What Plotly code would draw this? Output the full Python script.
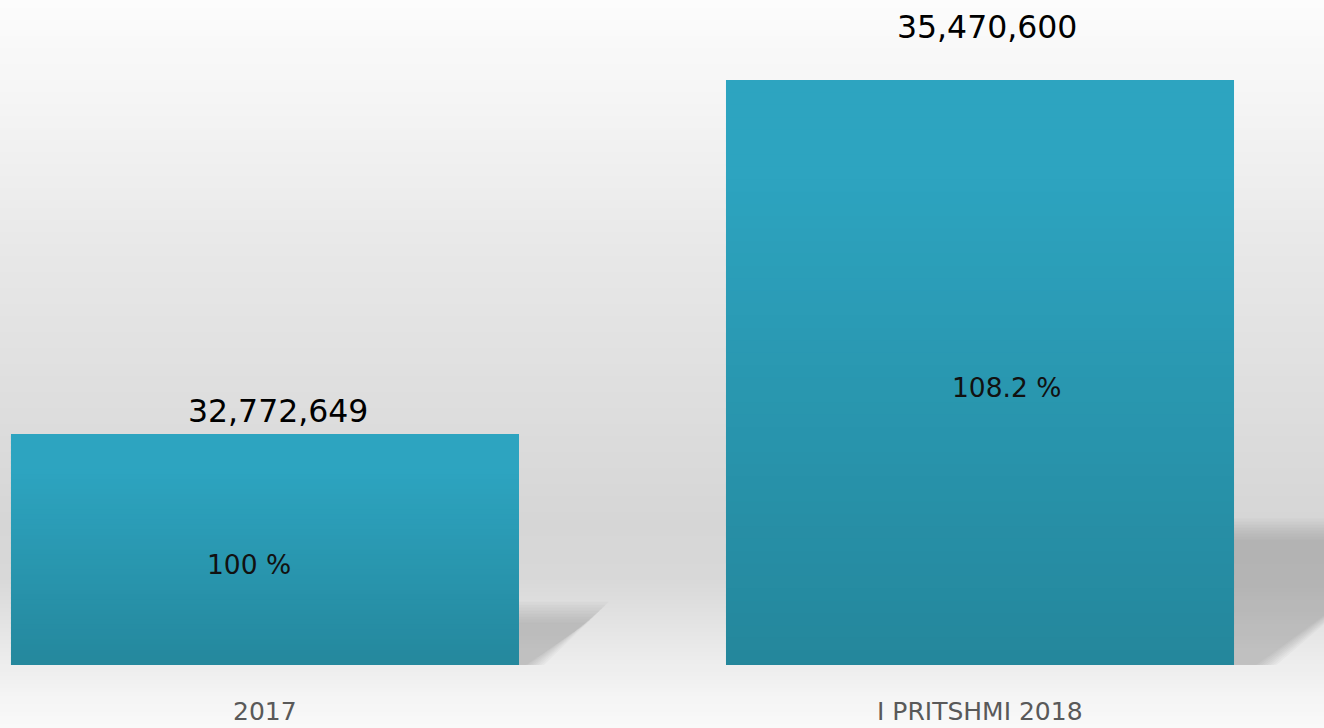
import plotly.graph_objects as go
import numpy as np

# ---- data ----
categories = ["2017", "I PRITSHMI 2018"]
values = [32772649, 35470600]
value_labels = ["32,772,649", "35,470,600"]
percent_labels = ["100 %", "108.2 %"]

# ---- layout constants ----
W, H = 1324, 728
MB = 63                      # bottom margin
PLOT_H = H - MB
y_range = [31012000, 36080300]
x_range = [-0.3706, 1.4811]
bar_width = 0.7105
FONT = "DejaVu Sans"

upp = (y_range[1] - y_range[0]) / PLOT_H          # value units per pixel
xppu = W / (x_range[1] - x_range[0])              # pixels per x unit

fig = go.Figure()

# ---- bars with vertical gradient (stacked segments) ----
top_col = np.array([45, 164, 192])
bot_col = np.array([36, 134, 155])
N = 48
floor = y_range[0] - 10 * upp
for k in range(N):
    t = (k + 0.5) / N                 # 0 bottom -> 1 top
    tt = min(1.0, t / 0.85)
    c = bot_col + (top_col - bot_col) * tt
    col = "rgb(%d,%d,%d)" % tuple(c.round())
    bases, heights = [], []
    for v in values:
        seg = (v - floor) / N
        b = floor + seg * k
        bases.append(b)
        heights.append(seg * (1.0 if k == N - 1 else 1.6))
    fig.add_trace(go.Bar(
        x=list(range(len(categories))), y=heights, base=bases,
        width=bar_width, marker=dict(color=col, line=dict(width=0)),
        hoverinfo="skip", showlegend=False,
    ))

shapes = []
# ---- background gradient (paper coords) ----
stops_px = [0, 100, 250, 400, 520, 580, 640, 700, 728]
stops_g = [252, 245, 232, 222, 214, 216, 232, 245, 249]
step = 4
for y0 in range(0, H, step):
    g = int(round(np.interp(y0 + step / 2, stops_px, stops_g)))
    shapes.append(dict(
        type="rect", xref="paper", yref="paper", layer="below",
        x0=0, x1=1, y0=1 - (y0 + step + 1) / PLOT_H, y1=1 - y0 / PLOT_H,
        line=dict(width=0), fillcolor="rgb(%d,%d,%d)" % (g, g, g),
    ))

# ---- soft shadows to the right of bars ----
for i, v in enumerate(values):
    h_px = (v - y_range[0]) / upp
    xr = i + bar_width / 2
    for d in range(-9, 15, 3):
        top_y = y_range[0] + (0.235 * h_px - d) * upp
        x_tr = xr + (0.35 * h_px - d) / xppu
        x_br = xr + (0.047 * h_px - d) / xppu
        if x_br < xr:
            x_br = xr
        path = "M %f,%f L %f,%f L %f,%f L %f,%f Z" % (
            xr - 0.01, y_range[0] - 5 * upp,
            xr - 0.01, top_y,
            x_tr, top_y,
            x_br, y_range[0] - 5 * upp,
        )
        shapes.append(dict(
            type="path", xref="x", yref="y", layer="below", path=path,
            line=dict(width=0), fillcolor="rgba(110,110,110,0.05)",
        ))

annotations = []
val_shift = [23, 53]
val_xshift = [13, 7]
pct_xshift = [-16, 26]
for i, v in enumerate(values):
    annotations.append(dict(
        x=i, y=v, xref="x", yref="y", text=value_labels[i], showarrow=False,
        yanchor="middle", yshift=val_shift[i], xshift=val_xshift[i],
        font=dict(family=FONT, size=31.5, color="#000000"),
    ))
    annotations.append(dict(
        x=i, y=(v + y_range[0]) / 2, xref="x", yref="y", text=percent_labels[i],
        showarrow=False, yanchor="middle", yshift=-15, xshift=pct_xshift[i],
        font=dict(family=FONT, size=26.5, color="#111111"),
    ))
    annotations.append(dict(
        x=i, y=0, xref="x", yref="paper", text=categories[i], showarrow=False,
        yanchor="middle", yshift=-46,
        font=dict(family=FONT, size=25, color="#595959"),
    ))

fig.update_layout(
    width=W, height=H,
    margin=dict(l=0, r=0, t=0, b=MB, pad=0),
    barmode="overlay",
    paper_bgcolor="#ffffff", plot_bgcolor="rgba(0,0,0,0)",
    shapes=shapes, annotations=annotations,
    xaxis=dict(range=x_range, showgrid=False, zeroline=False, showticklabels=False,
               showline=False, fixedrange=True),
    yaxis=dict(range=y_range, showgrid=False, zeroline=False, showticklabels=False,
               showline=False, fixedrange=True),
    showlegend=False,
)

fig.write_html(
    "out.html",
    config={"displayModeBar": False},
    post_script="document.body.style.margin='0px';document.body.style.overflow='hidden';",
)
